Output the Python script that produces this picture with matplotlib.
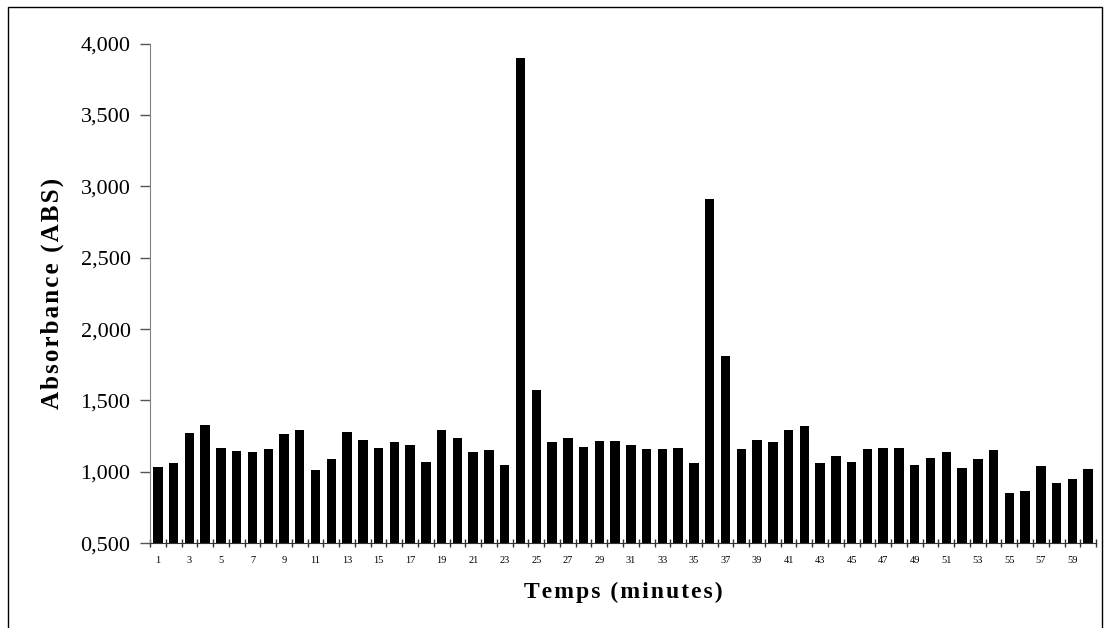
import numpy as np
import matplotlib.pyplot as plt
from matplotlib.patches import Rectangle
from matplotlib.ticker import FixedLocator, FuncFormatter

# === Data ===
minutes = list(range(1, 61))
absorbance = [
    1037, 1063, 1271, 1330, 1168, 1145, 1140, 1161, 1264, 1292,
    1012, 1089, 1278, 1220, 1168, 1208, 1189, 1068, 1292, 1236,
    1140, 1152, 1047, 3901, 1575, 1208, 1236, 1173, 1215, 1215,
    1185, 1157, 1157, 1168, 1061, 2908, 1809, 1161, 1220, 1208,
    1295, 1318, 1065, 1114, 1072, 1157, 1168, 1166, 1051, 1098,
    1140, 1026, 1089, 1152, 853, 865, 1040, 925, 949, 1021,
]
y_ticks = [500, 1000, 1500, 2000, 2500, 3000, 3500, 4000]

plt.rcParams['font.family'] = ['Liberation Serif', 'DejaVu Serif']


def spaced(s, gap='\u200a'):
    # expanded letter spacing like the original chart
    return gap.join(s)


fig = plt.figure(figsize=(11.06, 6.28), dpi=100)
ax = fig.add_axes([0.1356, 0.1349, 0.991 - 0.1356, 0.9307 - 0.1349])

x = np.arange(len(minutes))
ax.bar(x, absorbance, width=0.6, color='black')

ax.set_xlim(-0.5, len(minutes) - 0.5)
ax.set_ylim(500, 4000)

ax.set_yticks(y_ticks)
ax.yaxis.set_major_formatter(FuncFormatter(lambda v, p: f'{v / 1000:.3f}'.replace('.', ',')))
ax.tick_params(axis='y', labelsize=16, length=7, width=1, color='#555555', pad=7)

# labels on every other bar, tick marks at the bar boundaries
ax.set_xticks(x[::2])
ax.set_xticklabels([str(m) for m in minutes[::2]])
ax.tick_params(axis='x', which='major', length=0, labelsize=7.5, pad=9)
ax.xaxis.set_minor_locator(FixedLocator(np.arange(-0.5, len(minutes), 1.0)))
ax.tick_params(axis='x', which='minor', direction='inout', length=6, width=1, color='#333333')

for side in ['top', 'right']:
    ax.spines[side].set_visible(False)
ax.spines['left'].set_color('#808080')
ax.spines['bottom'].set_color('#333333')

ax.set_ylabel(spaced('Absorbance (ABS)'), fontsize=18, fontweight='bold', labelpad=12)
ax.set_xlabel(spaced('Temps (minutes)'), fontsize=17, fontweight='bold', labelpad=12)

# outer frame around the chart
fig.patches.append(Rectangle((8 / 1106, -0.05), (1102 - 8) / 1106, 1.05 - 7 / 628,
                             transform=fig.transFigure, fill=False,
                             edgecolor='black', linewidth=1))

plt.savefig('out.png', dpi=100)
